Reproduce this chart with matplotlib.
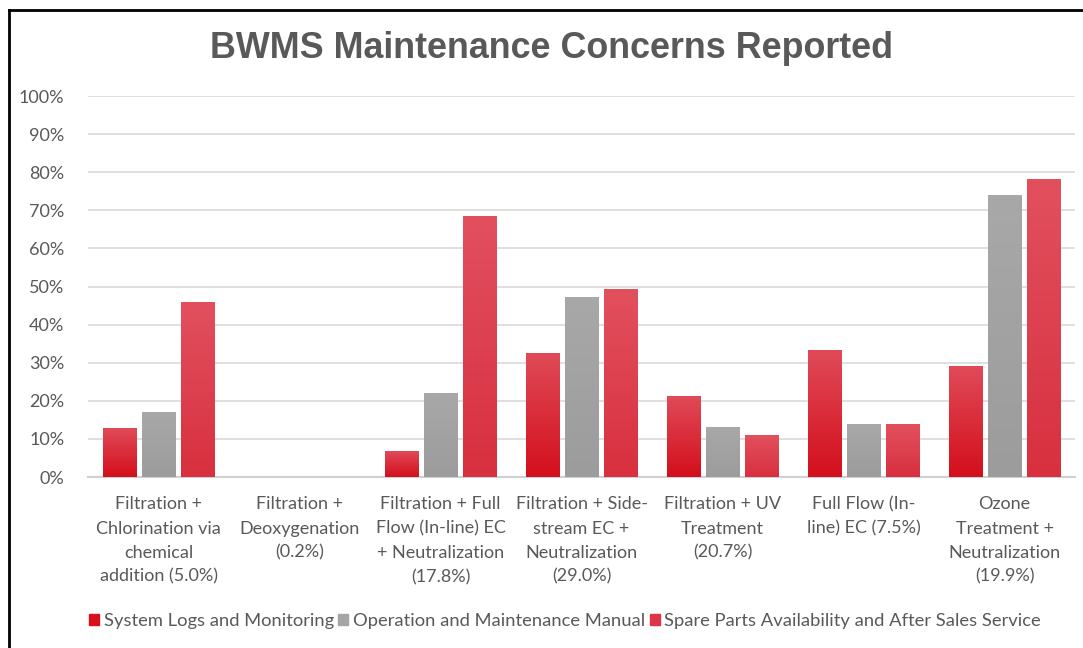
import numpy as np
import matplotlib
matplotlib.use('Agg')
import matplotlib.pyplot as plt
from matplotlib.lines import Line2D
from matplotlib.colors import to_rgb

# 数据
categories = [
    'Filtration +\nChlorination via\nchemical\naddition (5.0%)',
    'Filtration +\nDeoxygenation\n(0.2%)',
    'Filtration + Full\nFlow (In-line) EC\n+ Neutralization\n(17.8%)',
    'Filtration + Side-\nstream EC +\nNeutralization\n(29.0%)',
    'Filtration + UV\nTreatment\n(20.7%)',
    'Full Flow (In-\nline) EC (7.5%)',
    'Ozone\nTreatment +\nNeutralization\n(19.9%)',
]
series_names = [
    'System Logs and Monitoring',
    'Operation and Maintenance Manual',
    'Spare Parts Availability and After Sales Service',
]
system_logs = [0.126, 0.0, 0.068, 0.323, 0.210, 0.333, 0.291]
om_manual = [0.168, 0.0, 0.220, 0.472, 0.131, 0.139, 0.740]
spare_parts = [0.459, 0.0, 0.685, 0.493, 0.110, 0.139, 0.782]
y_ticks = [0, 0.1, 0.2, 0.3, 0.4, 0.5, 0.6, 0.7, 0.8, 0.9, 1.0]

# 每个系列的渐变色 (顶部, 底部)
gradients = [
    ('#e04a58', '#d40f1c'),
    ('#a8a8a8', '#9c9c9c'),
    ('#e2505e', '#d8303f'),
]
legend_colors = ['#d8111d', '#a5a5a5', '#dc3545']

text_color = '#595959'
label_font = ['Lato', 'DejaVu Sans']

fig = plt.figure(figsize=(10.83, 6.48), dpi=100)
fig.patch.set_facecolor('white')
ax = fig.add_axes([88 / 1083, 1 - 477 / 648, (1075 - 88) / 1083, (477 - 96) / 648])

# 外框 (左边和上边)
fig.add_artist(Line2D([9 / 1083, 1.0], [1 - 10 / 648, 1 - 10 / 648], color='black', lw=2, transform=fig.transFigure))
fig.add_artist(Line2D([9 / 1083, 9 / 1083], [1 - 10 / 648, 0], color='black', lw=2, transform=fig.transFigure))


def gradient_bar(ax, x, h, w, top, bottom, z=3):
    if h <= 0:
        return
    c_top = np.array(to_rgb(top))
    c_bot = np.array(to_rgb(bottom))
    t = np.linspace(0, 1, 64)[:, None]
    img = (c_bot * (1 - t) + c_top * t)[:, None, :]
    ax.imshow(img, extent=[x - w / 2, x + w / 2, 0, h], origin='lower',
              aspect='auto', zorder=z, interpolation='bilinear')


x = np.arange(len(categories))
offset = 0.277
width = 0.24
all_series = [system_logs, om_manual, spare_parts]
for k, vals in enumerate(all_series):
    for i, v in enumerate(vals):
        gradient_bar(ax, x[i] + (k - 1) * offset, v, width, *gradients[k])

ax.set_xlim(-0.5, len(categories) - 0.5)
ax.set_ylim(0, 1.0)
ax.set_yticks(y_ticks)
ax.set_yticklabels([f'{int(round(t * 100))}%' for t in y_ticks])
ax.set_xticks(x)
ax.set_xticklabels(categories)
for lbl in ax.get_xticklabels() + ax.get_yticklabels():
    lbl.set_family(label_font)
    lbl.set_fontsize(13)
    lbl.set_color(text_color)
for lbl in ax.get_xticklabels():
    lbl.set_linespacing(1.62)

ax.yaxis.grid(True, color='#d9d9d9', lw=1.2, zorder=0)
ax.set_axisbelow(True)
for s in ['top', 'right', 'left']:
    ax.spines[s].set_visible(False)
ax.spines['bottom'].set_color('#d0d0d0')
ax.spines['bottom'].set_linewidth(1.5)
ax.tick_params(axis='both', length=0)
ax.tick_params(axis='y', pad=17)
ax.tick_params(axis='x', pad=14)

fig.text(0.5 + 10 / 1083, 1 - 48 / 648, 'BWMS Maintenance Concerns Reported',
         ha='center', va='center', fontsize=25.8, fontweight='bold',
         family=['Liberation Sans', 'DejaVu Sans'], color=text_color)

handles = [plt.Rectangle((0, 0), 1, 1, color=c) for c in legend_colors]
leg = fig.legend(handles, series_names, loc='center', bbox_to_anchor=(565 / 1083, 1 - 621 / 648),
                 ncol=3, frameon=False, handlelength=0.55, handleheight=0.55,
                 handletextpad=0.25, columnspacing=0.25,
                 prop={'family': label_font, 'size': 13.2})
for t in leg.get_texts():
    t.set_color(text_color)

fig.savefig('out.png', dpi=100, facecolor='white')
